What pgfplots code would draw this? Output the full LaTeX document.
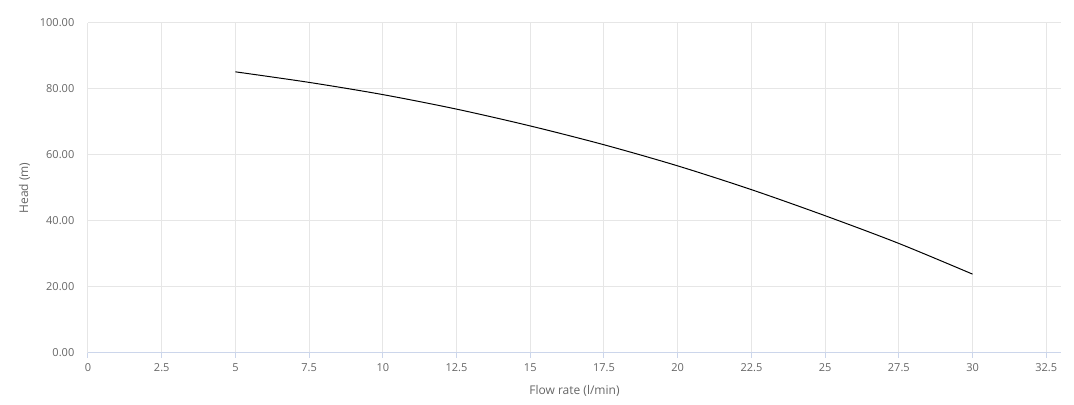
\documentclass[border=0pt]{standalone}
\usepackage{pgfplots}
\pgfplotsset{compat=1.18}
\usepackage{fontspec}
\setmainfont{Open Sans}
\definecolor{gridgrey}{HTML}{E6E6E6}
\definecolor{axisblue}{HTML}{CCD6EB}
\definecolor{labelgrey}{HTML}{666666}

\begin{document}
\begin{tikzpicture}
\begin{axis}[scale only axis,width=729.75pt,height=247.5pt,
  xmin=0,xmax=33,ymin=0,ymax=100,
  xtick={0,2.5,...,32.5},ytick={0,20,...,100},
  axis x line*=bottom,axis y line*=left,
  y axis line style={draw=none},
  x axis line style={color=axisblue,line width=0.75pt,-},
  grid=major,major grid style={color=gridgrey,line width=0.75pt},
  tick align=outside,major tick length=3.75pt,
  xtick style={color=axisblue,line width=0.75pt},
  ytick style={draw=none},
  /pgf/number format/assume math mode=true,
  yticklabel style={xshift=-3pt,/pgf/number format/.cd,fixed,fixed zerofill,precision=2},
  xticklabel style={yshift=-0.75pt},
  ticklabel style={font=\fontsize{8.25pt}{10pt}\selectfont,color=labelgrey},
  label style={font=\fontsize{9pt}{11pt}\selectfont,color=labelgrey},
  xlabel={Flow rate (l/min)},ylabel={Head (m)},
  xlabel style={yshift=-3pt},
  ylabel style={yshift=0.5pt},
  clip=false]
\addplot[black,line width=0.75pt,smooth] coordinates {
 (5,85.2)(7.5,82.0)(10,78.3)(12.5,73.9)(15,68.8)(17.5,63.1)
 (20,56.7)(22.5,49.5)(25,41.6)(27.5,33.2)(30,23.9)};
\coordinate (sw) at (rel axis cs:0,0);
\coordinate (ne) at (rel axis cs:1,1);
\end{axis}
\pgfresetboundingbox
\path[use as bounding box] ([xshift=-66pt,yshift=-39pt]sw) rectangle ([xshift=9.75pt,yshift=17.25pt]ne);
\end{tikzpicture}
\end{document}
